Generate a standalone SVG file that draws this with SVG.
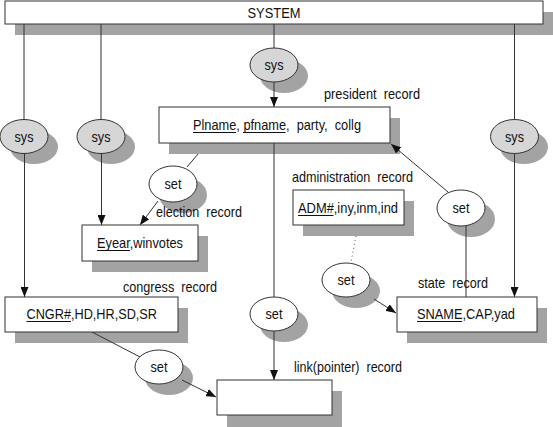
<svg xmlns="http://www.w3.org/2000/svg" width="553" height="427" viewBox="0 0 553 427">
<style>
.bx{fill:#fff;stroke:#333;stroke-width:1}
.sh{fill:#a3a3a3;stroke:none}
.sys{fill:#d6d6d6;stroke:#333;stroke-width:1}
.set{fill:#fff;stroke:#333;stroke-width:1}
.ln{stroke:#333;stroke-width:1;fill:none}
.ul{stroke:#111;stroke-width:1;fill:none}
.dot{stroke:#555;stroke-width:1;fill:none;stroke-dasharray:1 3}
text{font-family:"Liberation Sans",Arial,sans-serif;font-size:14.5px;fill:#111;white-space:pre}
.c{text-anchor:middle}
</style>
<defs>
<marker id="ah" viewBox="0 0 10 8" refX="10" refY="4" markerWidth="10" markerHeight="8" markerUnits="userSpaceOnUse" orient="auto">
<path d="M0,0 L10,4 L0,8 Z" fill="#111"/>
</marker>
</defs>

<g id="shadows">
<rect class="sh" x="15" y="12" width="538" height="23"/>
<rect class="sh" x="169" y="118" width="231" height="36"/>
<rect class="sh" x="92" y="236" width="116" height="36"/>
<rect class="sh" x="303" y="201" width="111" height="35"/>
<rect class="sh" x="15" y="308" width="173" height="35"/>
<rect class="sh" x="407" y="308" width="140" height="35"/>
<rect class="sh" x="227" y="391" width="115" height="36"/>
<ellipse class="sh" cx="284" cy="76" rx="24" ry="17"/>
<ellipse class="sh" cx="34" cy="147" rx="24" ry="17"/>
<ellipse class="sh" cx="111" cy="147" rx="24" ry="17"/>
<ellipse class="sh" cx="524" cy="147" rx="24" ry="17"/>
<ellipse class="sh" cx="183" cy="195" rx="24" ry="18"/>
<ellipse class="sh" cx="471" cy="219" rx="24" ry="18"/>
<ellipse class="sh" cx="356" cy="291" rx="24" ry="17"/>
<ellipse class="sh" cx="284" cy="325" rx="24" ry="17"/>
<ellipse class="sh" cx="169" cy="378" rx="24" ry="17"/>
</g>

<g id="connectors">
<line class="ln" x1="24" y1="24" x2="24" y2="120"/>
<line class="ln" x1="24.5" y1="153" x2="24.5" y2="297" marker-end="url(#ah)"/>
<line class="ln" x1="101" y1="24" x2="101" y2="120"/>
<line class="ln" x1="101.5" y1="153" x2="101.5" y2="225" marker-end="url(#ah)"/>
<line class="ln" x1="274" y1="24" x2="274" y2="48"/>
<line class="ln" x1="274" y1="82" x2="274" y2="107" marker-end="url(#ah)"/>
<line class="ln" x1="514.5" y1="24" x2="514.5" y2="120"/>
<line class="ln" x1="514.5" y1="153" x2="514.5" y2="297" marker-end="url(#ah)"/>
<line class="ln" x1="198" y1="154" x2="187" y2="167"/>
<line class="ln" x1="158" y1="201" x2="140" y2="225" marker-end="url(#ah)"/>
<line class="ln" x1="274" y1="143" x2="274" y2="297"/>
<line class="ln" x1="274" y1="331" x2="274" y2="380" marker-end="url(#ah)"/>
<line class="ln" x1="448" y1="192" x2="391" y2="144" marker-end="url(#ah)"/>
<line class="ln" x1="466" y1="225" x2="466" y2="297"/>
<line class="dot" x1="356" y1="236" x2="351" y2="262"/>
<line class="ln" x1="374" y1="299" x2="396" y2="313" marker-end="url(#ah)"/>
<line class="ln" x1="92" y1="332" x2="140" y2="357"/>
<line class="ln" x1="182" y1="380" x2="216" y2="397" marker-end="url(#ah)"/>
</g>

<g id="system">
<rect class="bx" x="5" y="1" width="538" height="23"/>
<text class="c" x="274" y="17.5" textLength="53" lengthAdjust="spacingAndGlyphs">SYSTEM</text>
</g>

<g id="sys-top">
<ellipse class="sys" cx="274" cy="65" rx="24" ry="17"/>
<text class="c" x="274" y="70" textLength="19" lengthAdjust="spacingAndGlyphs">sys</text>
</g>
<g id="sys-congress">
<ellipse class="sys" cx="24" cy="136.5" rx="24" ry="17"/>
<text class="c" x="24" y="141.5" textLength="19" lengthAdjust="spacingAndGlyphs">sys</text>
</g>
<g id="sys-election">
<ellipse class="sys" cx="101" cy="136.5" rx="24" ry="17"/>
<text class="c" x="101" y="141.5" textLength="19" lengthAdjust="spacingAndGlyphs">sys</text>
</g>
<g id="sys-state">
<ellipse class="sys" cx="514.5" cy="136.5" rx="24" ry="17"/>
<text class="c" x="514.5" y="141.5" textLength="19" lengthAdjust="spacingAndGlyphs">sys</text>
</g>

<g id="president">
<rect class="bx" x="159" y="107" width="231" height="36"/>
<text x="193" y="130" textLength="168" lengthAdjust="spacingAndGlyphs">Plname, pfname,  party,  collg</text>
<line class="ul" x1="193" y1="132.5" x2="236" y2="132.5"/>
<line class="ul" x1="243" y1="132.5" x2="285.5" y2="132.5"/>
<text x="324" y="99" textLength="96" lengthAdjust="spacingAndGlyphs">president  record</text>
</g>

<g id="set-election">
<ellipse class="set" cx="173" cy="184" rx="24" ry="18"/>
<text class="c" x="173" y="189" textLength="17" lengthAdjust="spacingAndGlyphs">set</text>
</g>

<g id="election">
<rect class="bx" x="82" y="225" width="116" height="36"/>
<text x="97" y="248" textLength="86" lengthAdjust="spacingAndGlyphs">Eyear,winvotes</text>
<line class="ul" x1="97" y1="250.5" x2="130" y2="250.5"/>
<text x="156" y="217" textLength="86" lengthAdjust="spacingAndGlyphs">election  record</text>
</g>

<g id="administration">
<rect class="bx" x="293" y="190" width="111" height="35"/>
<text x="298" y="213" textLength="100" lengthAdjust="spacingAndGlyphs">ADM#,iny,inm,ind</text>
<line class="ul" x1="298" y1="215.5" x2="333.5" y2="215.5"/>
<text x="292" y="182" textLength="121" lengthAdjust="spacingAndGlyphs">administration  record</text>
</g>

<g id="set-state-president">
<ellipse class="set" cx="461" cy="208" rx="24" ry="18"/>
<text class="c" x="461" y="213" textLength="17" lengthAdjust="spacingAndGlyphs">set</text>
</g>

<g id="set-admin-state">
<ellipse class="set" cx="346" cy="280" rx="24" ry="17"/>
<text class="c" x="346" y="285" textLength="17" lengthAdjust="spacingAndGlyphs">set</text>
</g>

<g id="set-link">
<ellipse class="set" cx="274" cy="314" rx="24" ry="17"/>
<text class="c" x="274" y="319" textLength="17" lengthAdjust="spacingAndGlyphs">set</text>
</g>

<g id="set-congress">
<ellipse class="set" cx="159" cy="367" rx="24" ry="17"/>
<text class="c" x="159" y="372" textLength="17" lengthAdjust="spacingAndGlyphs">set</text>
</g>

<g id="congress">
<rect class="bx" x="5" y="297" width="173" height="35"/>
<text x="26.5" y="319" textLength="130.5" lengthAdjust="spacingAndGlyphs">CNGR#,HD,HR,SD,SR</text>
<line class="ul" x1="26.5" y1="321.5" x2="71" y2="321.5"/>
<text x="123" y="292" textLength="94" lengthAdjust="spacingAndGlyphs">congress  record</text>
</g>

<g id="state">
<rect class="bx" x="397" y="297" width="140" height="35"/>
<text x="417" y="319" textLength="98" lengthAdjust="spacingAndGlyphs">SNAME,CAP,yad</text>
<line class="ul" x1="417" y1="321.5" x2="462" y2="321.5"/>
<text x="418" y="288" textLength="70" lengthAdjust="spacingAndGlyphs">state  record</text>
</g>

<g id="link">
<rect class="bx" x="217" y="380" width="115" height="35"/>
<text x="294" y="371.5" textLength="108" lengthAdjust="spacingAndGlyphs">link(pointer)  record</text>
</g>
</svg>
